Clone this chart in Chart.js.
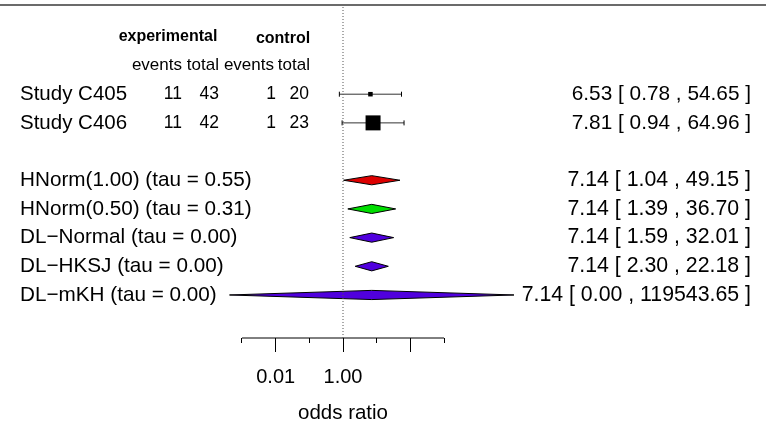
<!DOCTYPE html>
<html>
<head>
<meta charset="utf-8">
<script src="https://cdn.jsdelivr.net/npm/chart.js@4"></script>
<style>
  html, body { margin: 0; padding: 0; background: #ffffff; }
  #wrap { position: relative; width: 766px; height: 424px; overflow: hidden; }
  #c { position: absolute; left: 0; top: 0; }
  #topline { position: absolute; left: 0; top: 4px; width: 766px; height: 2px; background: #6b6b6b; }
</style>
</head>
<body>
<div id="wrap">
  <canvas id="c" width="766" height="424"></canvas>
  <div id="topline"></div>
</div>
<script>
// ---------------- data ----------------
const groupHeaders = ['experimental', 'control'];
const columnHeaders = ['events', 'total', 'events', 'total'];

const studyLabels = ['Study C405', 'Study C406'];
const expEvents   = [11, 11];
const expTotal    = [43, 42];
const ctrlEvents  = [1, 1];
const ctrlTotal   = [20, 23];
const studyOR     = [6.53, 7.81];
const studyLower  = [0.78, 0.94];
const studyUpper  = [54.65, 64.96];

const modelLabels = [
  'HNorm(1.00) (tau = 0.55)',
  'HNorm(0.50) (tau = 0.31)',
  'DL\u2212Normal (tau = 0.00)',
  'DL\u2212HKSJ (tau = 0.00)',
  'DL\u2212mKH (tau = 0.00)'
];
const modelOR    = [7.14, 7.14, 7.14, 7.14, 7.14];
const modelLower = [1.04, 1.39, 1.59, 2.30, 0.000426];
const modelUpper = [49.15, 36.70, 32.01, 22.18, 119543.65];

const tickValues = [0.001, 0.01, 0.1, 1, 10, 100, 1000];
const tickLabels = ['', '0.01', '', '1.00', '', '', ''];
const longTicks  = [0.01, 1, 100];
const axisTitle  = 'odds ratio';

// ---------------- layout / style ----------------
const FONT = '"Liberation Sans", Arial, Helvetica, sans-serif';
const PX_PER_DECADE = 33.67;
const AREA_W = 686;                       // chart area width, centred on OR = 1
const HALF_DEC = (AREA_W / 2) / PX_PER_DECADE;
const X_MIN = Math.pow(10, -HALF_DEC);
const X_MAX = Math.pow(10, HALF_DEC);
const Y_MIN = -3.04, Y_MAX = 8.50;        // row units (rows go downward)
const DIAMOND_H = 0.16;                   // half height of diamonds in row units
const squareRadius = [3.2, 10.6];
const modelColors = ['#dd0000', '#00dd00', '#5000dd', '#5000dd', '#5000dd'];

const studyRows = studyLabels.map((_, i) => i);
const modelRows = modelLabels.map((_, j) => studyLabels.length + 1 + j);

// ---------------- datasets ----------------
const datasets = [];

// reference line at OR = 1
datasets.push({
  data: [{x: 1, y: Y_MIN}, {x: 1, y: Y_MAX}],
  borderColor: '#555', borderWidth: 1, borderDash: [1, 2],
  pointRadius: 0, fill: false, clip: false
});
// axis line
datasets.push({
  data: [{x: tickValues[0], y: Y_MAX}, {x: tickValues[tickValues.length - 1], y: Y_MAX}],
  borderColor: '#000', borderWidth: 1, pointRadius: 0, fill: false, clip: false
});

// study squares + CIs
studyLabels.forEach((_, i) => {
  const r = studyRows[i];
  datasets.push({
    data: [{x: studyOR[i], y: r}],
    showLine: false, pointStyle: 'rect', pointRadius: squareRadius[i],
    pointBackgroundColor: '#000', pointBorderColor: '#000', pointBorderWidth: 0, fill: false
  });
  datasets.push({
    data: [{x: studyLower[i], y: r}, {x: studyUpper[i], y: r}],
    borderColor: '#333', borderWidth: 1, fill: false,
    pointStyle: 'line', rotation: 90, pointRadius: 2.5,
    pointBorderColor: '#000', pointBorderWidth: 1
  });
});

// model diamonds (upper half filled to lower half)
modelLabels.forEach((_, j) => {
  const r = modelRows[j];
  datasets.push({
    data: [{x: modelLower[j], y: r}, {x: modelOR[j], y: r - DIAMOND_H}, {x: modelUpper[j], y: r}],
    borderColor: '#000', borderWidth: 1, backgroundColor: modelColors[j],
    fill: '+1', pointRadius: 0, tension: 0
  });
  datasets.push({
    data: [{x: modelLower[j], y: r}, {x: modelOR[j], y: r + DIAMOND_H}, {x: modelUpper[j], y: r}],
    borderColor: '#000', borderWidth: 1, fill: false, pointRadius: 0, tension: 0
  });
});

// ---------------- text plugin ----------------
const fmt = v => v.toFixed(2);
const textPlugin = {
  id: 'forestText',
  afterDraw(chart) {
    const ctx = chart.ctx;
    const ys = chart.scales.y;
    ctx.save();
    ctx.fillStyle = '#000';
    ctx.textBaseline = 'middle';

    // group headers
    ctx.font = 'bold 16px ' + FONT;
    ctx.textAlign = 'center';
    const groupX = [168, 283];
    groupHeaders.forEach((t, k) => ctx.fillText(t, groupX[k], ys.getPixelForValue(-2) + (k === 1 ? 1.5 : 0)));

    // column headers
    ctx.font = '17px ' + FONT;
    ctx.textAlign = 'right';
    const headX = [182, 219, 274, 310];
    columnHeaders.forEach((t, k) => ctx.fillText(t, headX[k], ys.getPixelForValue(-1)));

    // study rows
    const numX = [182, 219, 276, 309];
    studyLabels.forEach((lab, i) => {
      const py = ys.getPixelForValue(studyRows[i]);
      ctx.font = '20.5px ' + FONT;
      ctx.textAlign = 'left';
      ctx.fillText(lab, 20, py);
      ctx.font = '17.5px ' + FONT;
      ctx.textAlign = 'right';
      [expEvents[i], expTotal[i], ctrlEvents[i], ctrlTotal[i]].forEach((v, k) => ctx.fillText(String(v), numX[k], py));
      ctx.font = '20.8px ' + FONT;
      ctx.fillText(fmt(studyOR[i]) + ' [ ' + fmt(studyLower[i]) + ' , ' + fmt(studyUpper[i]) + ' ]', 751, py);
    });

    // model rows
    modelLabels.forEach((lab, j) => {
      const py = ys.getPixelForValue(modelRows[j]);
      ctx.font = '20.7px ' + FONT;
      ctx.textAlign = 'left';
      ctx.fillText(lab, 20, py);
      ctx.font = '21.3px ' + FONT;
      ctx.textAlign = 'right';
      ctx.fillText(fmt(modelOR[j]) + ' [ ' + fmt(modelLower[j]) + ' , ' + fmt(modelUpper[j]) + ' ]', 751, py);
    });
    ctx.restore();
  }
};

// ---------------- chart ----------------
new Chart(document.getElementById('c'), {
  type: 'line',
  data: { datasets },
  plugins: [textPlugin],
  options: {
    responsive: false,
    animation: false,
    events: [],
    layout: { autoPadding: false, padding: { left: 0, right: 766 - AREA_W, top: 7, bottom: 0 } },
    plugins: {
      legend: { display: false },
      tooltip: { enabled: false },
      filler: { drawTime: 'beforeDatasetsDraw' }
    },
    scales: {
      x: {
        type: 'logarithmic',
        min: X_MIN, max: X_MAX,
        afterBuildTicks: s => { s.ticks = tickValues.map(v => ({ value: v })); },
        afterFit: s => { s.height = 86; },
        border: { display: false },
        grid: {
          drawOnChartArea: false, drawTicks: true, tickLength: 14,
          tickColor: '#000', tickWidth: 1,
          tickBorderDash: c => (c.tick && longTicks.includes(c.tick.value)) ? [] : [5, 100]
        },
        ticks: {
          autoSkip: false, maxRotation: 0, minRotation: 0, padding: 13,
          color: '#000', font: { family: FONT, size: 20 },
          callback: (v, i) => tickLabels[i]
        },
        title: {
          display: true, text: axisTitle, color: '#000', padding: 0,
          font: { family: FONT, size: 20.5, lineHeight: 1 }
        }
      },
      y: { type: 'linear', display: false, min: Y_MIN, max: Y_MAX, reverse: true }
    }
  }
});
</script>
</body>
</html>
